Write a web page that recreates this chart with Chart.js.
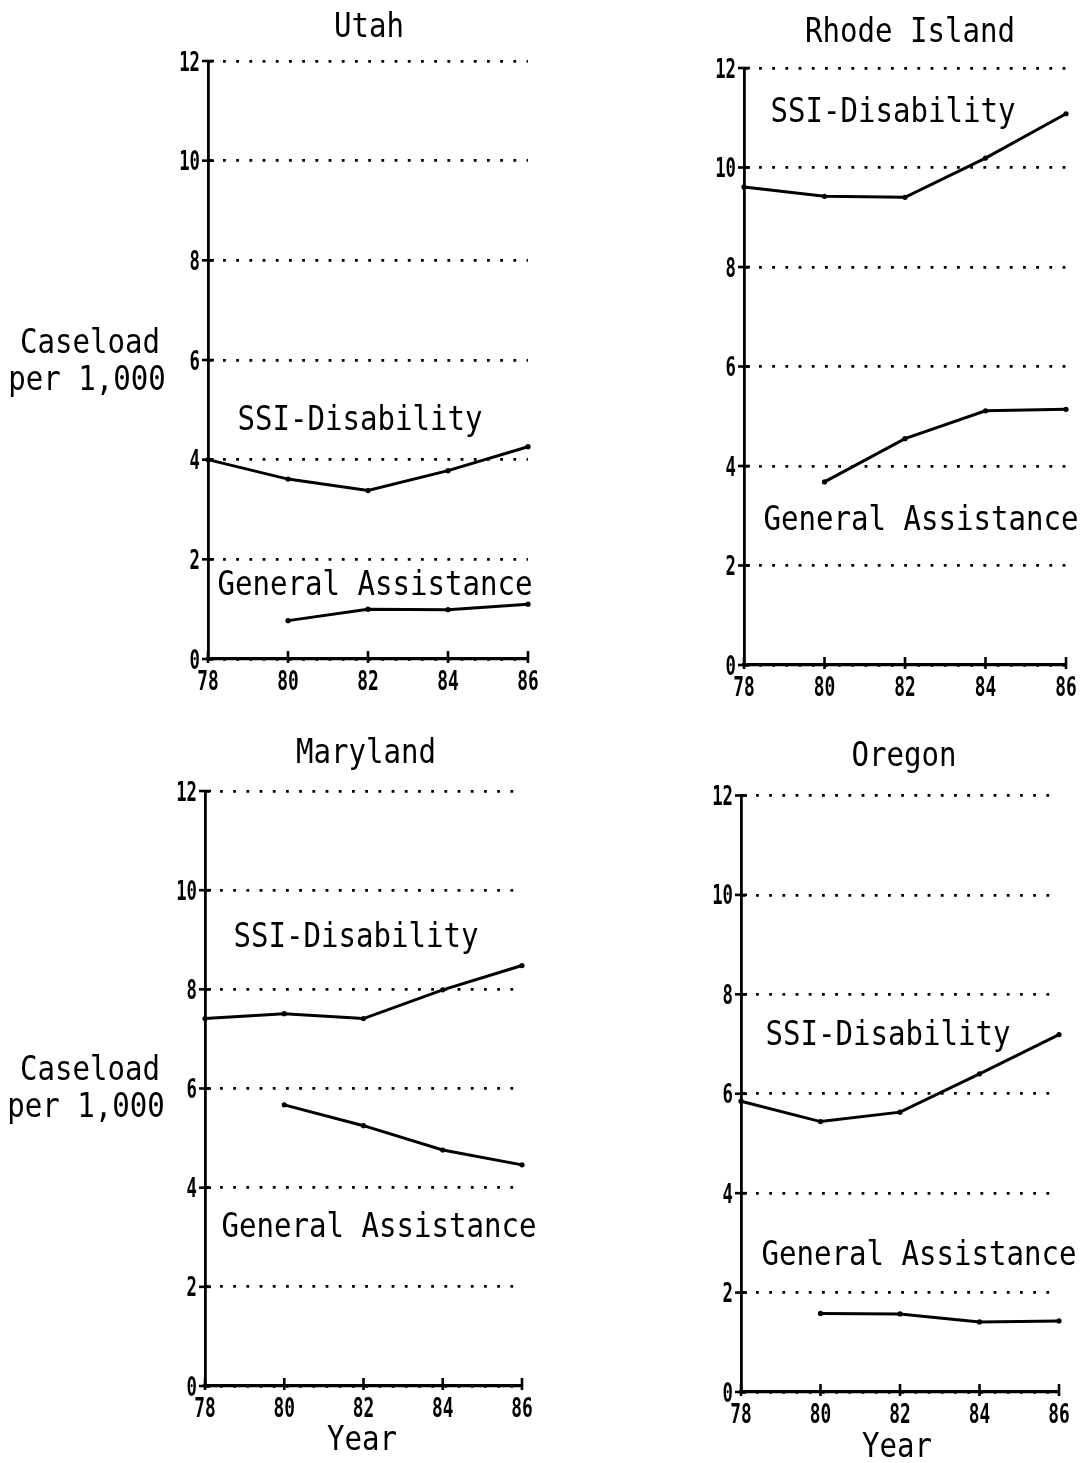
<!DOCTYPE html>
<html>
<head>
<meta charset="utf-8">
<script src="https://cdn.jsdelivr.net/npm/chart.js@4.4.1/dist/chart.umd.min.js"></script>
<style>
  html, body { margin: 0; padding: 0; background: #fff; }
  #page { position: relative; width: 1084px; height: 1463px; overflow: hidden; background: #fff; }
  #page canvas { position: absolute; }
</style>
</head>
<body>
<div id="page"></div>
<script>
// ---- data -------------------------------------------------------------
const years = [78, 80, 82, 84, 86];
const xTicks = [78, 80, 82, 84, 86];
const yTicks = [0, 2, 4, 6, 8, 10, 12];

const stateNames = ['Utah', 'Rhode Island', 'Maryland', 'Oregon'];
const seriesNames = ['SSI-Disability', 'General Assistance'];
const yTitleLines = ['Caseload', 'per 1,000'];
const xTitle = 'Year';

// caseload per 1,000 population, by year (null = not reported)
const utahSSI     = [4.00, 3.61, 3.38, 3.78, 4.26];
const utahGA      = [null, 0.77, 1.00, 0.99, 1.10];
const rhodeSSI    = [9.61, 9.42, 9.40, 10.19, 11.08];
const rhodeGA     = [null, 3.68, 4.55, 5.11, 5.14];
const marylandSSI = [7.41, 7.51, 7.41, 7.99, 8.48];
const marylandGA  = [null, 5.67, 5.25, 4.76, 4.46];
const oregonSSI   = [5.85, 5.44, 5.63, 6.40, 7.19];
const oregonGA    = [null, 1.58, 1.57, 1.41, 1.43];

// ---- layout -------------------------------------------------------------
const FONT = '"DejaVu Sans Mono", "Liberation Mono", monospace';

// canvas rectangles and plot-area edges, in page pixels
const panels = [
  { state: 0, ssi: utahSSI, ga: utahGA,
    canvas: { x: 0, y: 0, w: 542, h: 725 },
    area: { left: 208, right: 528, top: 61, bottom: 659 },
    texts: [
      { s: stateNames[0], x: 369, y: 37 },
      { s: seriesNames[0], x: 360, y: 430 },
      { s: seriesNames[1], x: 375, y: 595 },
      { s: yTitleLines[0], x: 90, y: 353 },
      { s: yTitleLines[1], x: 87, y: 390 }
    ] },
  { state: 1, ssi: rhodeSSI, ga: rhodeGA,
    canvas: { x: 542, y: 0, w: 542, h: 725 },
    area: { left: 744, right: 1066, top: 68, bottom: 665 },
    texts: [
      { s: stateNames[1], x: 910, y: 42 },
      { s: seriesNames[0], x: 893, y: 122 },
      { s: seriesNames[1], x: 921, y: 530 }
    ] },
  { state: 2, ssi: marylandSSI, ga: marylandGA,
    canvas: { x: 0, y: 725, w: 542, h: 738 },
    area: { left: 205, right: 522, top: 791, bottom: 1386 },
    texts: [
      { s: stateNames[2], x: 366, y: 763 },
      { s: seriesNames[0], x: 356, y: 947 },
      { s: seriesNames[1], x: 379, y: 1237 },
      { s: yTitleLines[0], x: 90, y: 1080 },
      { s: yTitleLines[1], x: 86, y: 1117 },
      { s: xTitle, x: 362, y: 1450 }
    ] },
  { state: 3, ssi: oregonSSI, ga: oregonGA,
    canvas: { x: 542, y: 725, w: 542, h: 738 },
    area: { left: 741, right: 1059, top: 795.5, bottom: 1392 },
    texts: [
      { s: stateNames[3], x: 904, y: 766 },
      { s: seriesNames[0], x: 888, y: 1045 },
      { s: seriesNames[1], x: 919, y: 1265 },
      { s: xTitle, x: 897, y: 1457 }
    ] }
];

// condensed plotter-style lettering
function plotText(ctx, s, x, y, size, sx, align, weight) {
  ctx.save();
  ctx.translate(x, y);
  ctx.scale(sx, 1);
  ctx.font = weight + ' ' + size + 'px ' + FONT;
  ctx.textAlign = align;
  ctx.textBaseline = 'alphabetic';
  ctx.fillStyle = '#000';
  ctx.fillText(s, 0, 0);
  ctx.restore();
}

// tick marks, tick numbers, titles and series captions
const plotterPlugin = {
  id: 'plotter',
  afterDraw(chart, args, opts) {
    const { ctx, chartArea } = chart;
    const xs = chart.scales.x, ys = chart.scales.y;
    ctx.save();
    ctx.strokeStyle = '#000';
    ctx.lineWidth = 2.6;
    yTicks.forEach(v => {
      const py = ys.getPixelForValue(v);
      ctx.beginPath();
      ctx.moveTo(chartArea.left - 6, py);
      ctx.lineTo(chartArea.left + 6, py);
      ctx.stroke();
      plotText(ctx, String(v), chartArea.left - 8, py + 9.5, 27, 0.64, 'right', 'bold');
    });
    xTicks.forEach(v => {
      const px = xs.getPixelForValue(v);
      ctx.beginPath();
      ctx.moveTo(px, chartArea.bottom - 8);
      ctx.lineTo(px, chartArea.bottom + 4);
      ctx.stroke();
      plotText(ctx, String(v), px, chartArea.bottom + 31, 27, 0.66, 'center', 'bold');
    });
    opts.texts.forEach(t => {
      plotText(ctx, t.s, t.x - opts.ox, t.y - opts.oy, 34, 0.855, 'center', 'normal');
    });
    ctx.restore();
  }
};

function toPoints(values) {
  const pts = [];
  years.forEach((yr, i) => { if (values[i] !== null) pts.push({ x: yr, y: values[i] }); });
  return pts;
}

function lineDataset(label, values) {
  return {
    label: label,
    data: toPoints(values),
    borderColor: '#000',
    backgroundColor: '#000',
    borderWidth: 3,
    pointRadius: 2.6,
    pointBorderWidth: 0,
    pointBackgroundColor: '#000',
    tension: 0,
    clip: false
  };
}

const page = document.getElementById('page');

panels.forEach(p => {
  const c = document.createElement('canvas');
  c.width = p.canvas.w;
  c.height = p.canvas.h;
  c.style.left = p.canvas.x + 'px';
  c.style.top = p.canvas.y + 'px';
  c.style.width = p.canvas.w + 'px';
  c.style.height = p.canvas.h + 'px';
  page.appendChild(c);

  const pad = {
    left: p.area.left - p.canvas.x,
    right: p.canvas.x + p.canvas.w - p.area.right,
    top: p.area.top - p.canvas.y,
    bottom: p.canvas.y + p.canvas.h - p.area.bottom
  };

  new Chart(c.getContext('2d'), {
    type: 'line',
    data: {
      datasets: [lineDataset(seriesNames[0], p.ssi), lineDataset(seriesNames[1], p.ga)]
    },
    plugins: [plotterPlugin],
    options: {
      responsive: false,
      animation: false,
      devicePixelRatio: 1,
      layout: { padding: pad, autoPadding: false },
      plugins: {
        legend: { display: false },
        tooltip: { enabled: false },
        title: { display: false },
        plotter: { ox: p.canvas.x, oy: p.canvas.y, texts: p.texts }
      },
      scales: {
        x: {
          type: 'linear',
          min: 78, max: 86,
          ticks: { display: false, stepSize: 2 },
          grid: { display: false },
          border: { display: true, color: '#000', width: 3.2 },
          afterFit(s) { s.height = 0; }
        },
        y: {
          type: 'linear',
          min: 0, max: 12,
          ticks: { display: false, stepSize: 2 },
          grid: { display: true, color: '#000', lineWidth: 2.8, drawTicks: false },
          border: { display: true, color: '#000', width: 2.8, dash: [2.8, 10.4] },
          afterFit(s) { s.width = 0; }
        }
      }
    }
  });
});
</script>
</body>
</html>
